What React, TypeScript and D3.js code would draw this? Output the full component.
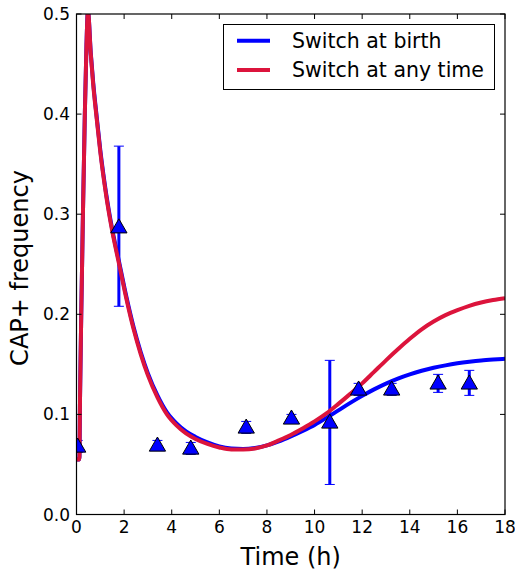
import React from "react";
import * as d3 from "d3";

const curveTime = [0, 0.12, 0.15, 0.2, 0.27, 0.35, 0.42, 0.48, 0.6, 0.7, 0.85, 1.0, 1.25, 1.5, 1.8, 2.1, 2.4, 2.7, 3.0, 3.4, 3.8, 4.2, 4.6, 5.0, 5.5, 6.0, 6.5, 7.0, 7.5, 8.0, 8.5, 9.0, 9.5, 10, 10.5, 11, 11.5, 12, 12.5, 13, 13.5, 14, 14.5, 15, 15.5, 16, 16.5, 17, 17.5, 18];
const switchAnyTime = [0.055, 0.055, 0.12, 0.2, 0.3, 0.4, 0.47, 0.503, 0.46, 0.43, 0.395, 0.362, 0.318, 0.283, 0.249, 0.215, 0.185, 0.16, 0.139, 0.117, 0.1, 0.089, 0.081, 0.0755, 0.0705, 0.067, 0.065, 0.065, 0.066, 0.069, 0.074, 0.0795, 0.086, 0.093, 0.101, 0.1105, 0.1205, 0.131, 0.1425, 0.154, 0.165, 0.1755, 0.185, 0.1928, 0.1992, 0.2042, 0.2085, 0.2118, 0.2142, 0.216];
const switchAtBirth = [0.055, 0.055, 0.12, 0.2, 0.3, 0.4, 0.47, 0.503, 0.461, 0.432, 0.397, 0.364, 0.32, 0.285, 0.251, 0.217, 0.187, 0.162, 0.141, 0.119, 0.102, 0.091, 0.083, 0.0775, 0.072, 0.068, 0.066, 0.0655, 0.0665, 0.069, 0.073, 0.078, 0.0835, 0.0895, 0.0965, 0.104, 0.1115, 0.1185, 0.125, 0.1308, 0.1358, 0.14, 0.1436, 0.1466, 0.149, 0.151, 0.1526, 0.1539, 0.1548, 0.1555];

const obsTime = [0.05, 1.78, 3.4, 4.8, 7.13, 9.03, 10.64, 11.85, 13.24, 15.19, 16.5];
const obsValue = [0.068, 0.287, 0.069, 0.066, 0.087, 0.096, 0.092, 0.125, 0.125, 0.131, 0.131];
const obsLow = [0.062, 0.208, 0.064, 0.06, 0.081, 0.092, 0.03, 0.119, 0.119, 0.122, 0.119];
const obsHigh = [0.074, 0.368, 0.074, 0.072, 0.093, 0.1, 0.154, 0.131, 0.131, 0.14, 0.144];

const xTicks = [0, 2, 4, 6, 8, 10, 12, 14, 16, 18];
const yTicks = [0, 0.1, 0.2, 0.3, 0.4, 0.5];

const seriesNames = ["Switch at birth", "Switch at any time"];
const seriesColors = ["#0000ff", "#dc143c"];

const W = 515, H = 573;
const L = 76.5, R = 505, T = 14, B = 514.5;
const FONT = "'DejaVu Sans', sans-serif";

export default function App() {
  const x = d3.scaleLinear().domain([0, 18]).range([L, R]);
  const y = d3.scaleLinear().domain([0, 0.5]).range([B, T]);
  const line = d3.line<[number, number]>().x(d => x(d[0])).y(d => y(d[1])).curve(d3.curveMonotoneX);
  const birthPath = line(curveTime.map((t, i) => [t, switchAtBirth[i]]) as [number, number][]) || "";
  const anyPath = line(curveTime.map((t, i) => [t, switchAnyTime[i]]) as [number, number][]) || "";
  const tri = d3.symbol().type(d3.symbolTriangle).size(115)() || "";

  return (
    <svg width={W} height={H} style={{ position: "absolute", left: 0, top: 0, background: "#fff" }} fontFamily={FONT}>
      <defs>
        <clipPath id="plotclip">
          <rect x={L} y={T} width={R - L} height={B - T} />
        </clipPath>
      </defs>
      <rect x={0} y={0} width={W} height={H} fill="#fff" />
      <g clipPath="url(#plotclip)">
        {obsTime.map((t, i) => (
          <g key={"eb" + i} stroke="#0000ff">
            <line x1={x(t)} x2={x(t)} y1={y(obsLow[i])} y2={y(obsHigh[i])} strokeWidth={3} />
            <line x1={x(t) - 5} x2={x(t) + 5} y1={y(obsLow[i])} y2={y(obsLow[i])} strokeWidth={1} />
            <line x1={x(t) - 5} x2={x(t) + 5} y1={y(obsHigh[i])} y2={y(obsHigh[i])} strokeWidth={1} />
          </g>
        ))}
        <path d={birthPath} fill="none" stroke={seriesColors[0]} strokeWidth={4} strokeLinejoin="round" />
        <path d={anyPath} fill="none" stroke={seriesColors[1]} strokeWidth={4} strokeLinejoin="round" />
        {obsTime.map((t, i) => (
          <path key={"m" + i} d={tri} transform={`translate(${x(t)},${y(obsValue[i]) + 1})`} fill="#0000ff" stroke="#000" strokeWidth={1} />
        ))}
      </g>
      <rect x={L} y={T} width={R - L} height={B - T} fill="none" stroke="#000" strokeWidth={1.2} />
      {xTicks.map(t => (
        <g key={"xt" + t}>
          <line x1={x(t)} x2={x(t)} y1={B} y2={B - 5} stroke="#000" />
          <line x1={x(t)} x2={x(t)} y1={T} y2={T + 5} stroke="#000" />
          <text x={x(t)} y={533} fontSize={17} textAnchor="middle" fill="#000">{t}</text>
        </g>
      ))}
      {yTicks.map(v => (
        <g key={"yt" + v}>
          <line x1={L} x2={L + 5} y1={y(v)} y2={y(v)} stroke="#000" />
          <line x1={R} x2={R - 5} y1={y(v)} y2={y(v)} stroke="#000" />
          <text x={70} y={y(v) + 6} fontSize={17} textAnchor="end" fill="#000">{v.toFixed(1)}</text>
        </g>
      ))}
      <text x={(L + R) / 2} y={565} fontSize={24} textAnchor="middle" fill="#000">Time (h)</text>
      <text transform={`translate(28,${268}) rotate(-90)`} fontSize={24} textAnchor="middle" fill="#000">CAP+ frequency</text>
      <g>
        <rect x={223.5} y={24.5} width={271} height={65} fill="#fff" stroke="#000" strokeWidth={1} />
        {seriesNames.map((n, i) => (
          <g key={n}>
            <line x1={237} x2={270} y1={40.7 + i * 29.3} y2={40.7 + i * 29.3} stroke={seriesColors[i]} strokeWidth={4} />
            <text x={292} y={40.7 + i * 29.3 + 7.3} fontSize={20.5} fill="#000">{n}</text>
          </g>
        ))}
      </g>
    </svg>
  );
}
